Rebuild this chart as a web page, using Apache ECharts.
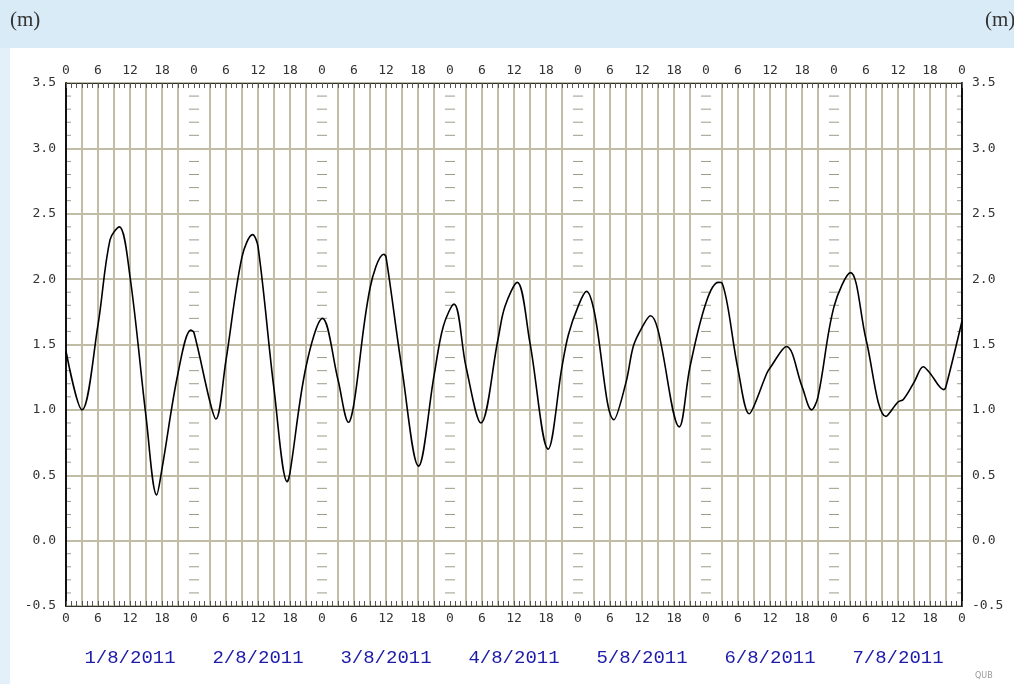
<!DOCTYPE html>
<html>
<head>
<meta charset="utf-8">
<script src="https://cdn.jsdelivr.net/npm/echarts@6/dist/echarts.min.js"></script>
<style>
  html, body { margin: 0; padding: 0; background: #ffffff; }
  #chart { width: 1014px; height: 684px; }
</style>
</head>
<body>
<div id="chart"></div>
<script>
// hours since 0:00 on 1/8/2011
const hours = [
  0, 3, 6, 8.25, 10, 12, 15, 17, 18, 21, 23.4, 24, 27, 28.1, 30, 33, 35, 36, 39, 41.5,
  42, 45, 48.1, 51, 53, 54, 57, 59.6, 60, 63, 66.1, 69, 70.75, 72.75, 75, 77.8, 81, 82.3,
  84.6, 87, 90.4, 93, 94.2, 96, 97.6, 99, 102.75, 105, 106.4, 108, 109.6, 111, 115, 117,
  120, 122.3, 123, 126, 128.1, 129, 131.4, 132, 135.1, 138, 139.8, 141, 144, 147.1, 150,
  153.75, 156, 157, 159, 160.75, 162, 164.6, 165, 168
];
const tide = [
  1.45, 1.0, 1.65, 2.30, 2.40, 2.02, 0.95, 0.35, 0.55, 1.28, 1.61, 1.59, 1.06, 0.93, 1.38, 2.17, 2.34, 2.25, 1.16, 0.45,
  0.52, 1.33, 1.70, 1.23, 0.905, 1.05, 1.93, 2.19, 2.17, 1.31, 0.57, 1.26, 1.64, 1.81, 1.33, 0.90, 1.54, 1.79,
  1.975, 1.51, 0.70, 1.33, 1.575, 1.79, 1.906, 1.76, 0.925, 1.21, 1.49, 1.63, 1.72, 1.61, 0.87, 1.33,
  1.82, 1.975, 1.97, 1.31, 0.97, 1.03, 1.28, 1.32, 1.485, 1.18, 1.0, 1.10, 1.79, 2.05, 1.54,
  0.95, 1.06, 1.08, 1.21, 1.33, 1.28, 1.155, 1.18, 1.68
];
const days = ["1/8/2011", "2/8/2011", "3/8/2011", "4/8/2011", "5/8/2011", "6/8/2011", "7/8/2011"];

const gridColor = "#c0bca6";
const tickFont = { fontFamily: "DejaVu Sans Mono", fontSize: 13, color: "#333" };

// small dashes every 0.1 m: on the day boundaries, and as ticks inside the two side axes
const boundaryDashes = [];
const leftTicks = [];
const rightTicks = [];
for (let k = -4; k <= 34; k++) {
  if (k % 5 === 0) continue;
  leftTicks.push([0, k / 10]);
  rightTicks.push([168, k / 10]);
  for (let d = 1; d < days.length; d++) boundaryDashes.push([d * 24, k / 10]);
}

function hourAxis(position, showSplit) {
  return {
    type: "value",
    position: position,
    min: 0,
    max: 168,
    interval: 3,
    axisLine: { show: true, onZero: false, lineStyle: { color: "#333", width: 1 } },
    axisTick: { show: true, inside: true, length: 5, lineStyle: { color: "#555", width: 1 } },
    minorTick: { show: true, splitNumber: 3, length: 5, lineStyle: { color: "#555", width: 1 } },
    axisLabel: Object.assign({
      margin: 6,
      showMinLabel: true,
      showMaxLabel: true,
      formatter: (v) => (v % 6 === 0 ? String(v % 24) : "")
    }, tickFont),
    splitLine: {
      show: showSplit,
      lineStyle: {
        width: 2,
        color: ["rgba(0,0,0,0)", gridColor, gridColor, gridColor, gridColor, gridColor, gridColor, gridColor]
      }
    }
  };
}

function levelAxis(position, showSplit) {
  return {
    type: "value",
    position: position,
    min: -0.5,
    max: 3.5,
    interval: 0.5,
    axisLine: { show: true, onZero: false, lineStyle: { color: "#111", width: 2 } },
    axisTick: { show: false },
    minorTick: { show: false },
    axisLabel: Object.assign({
      margin: 10,
      formatter: (v) => v.toFixed(1)
    }, tickFont),
    splitLine: { show: showSplit, lineStyle: { color: gridColor, width: 2 } }
  };
}

function dashSeries(data, size, offset) {
  return {
    type: "scatter",
    xAxisIndex: 0,
    yAxisIndex: 0,
    silent: true,
    symbol: "rect",
    symbolSize: size,
    symbolOffset: offset,
    itemStyle: { color: "#85816c" },
    data: data,
    z: 1
  };
}

const chart = echarts.init(document.getElementById("chart"), null, { renderer: "canvas" });

chart.setOption({
  backgroundColor: "#ffffff",
  animation: false,
  graphic: [
    { type: "rect", left: 0, top: 0, shape: { width: 1014, height: 48 }, style: { fill: "#d8ebf7" }, z: -10 },
    { type: "rect", left: 0, top: 48, shape: { width: 10, height: 636 }, style: { fill: "#e3f0f9" }, z: -10 },
    { type: "text", left: 10, top: 10, style: { text: "(m)", font: "21px 'Liberation Serif'", fill: "#333" } },
    { type: "text", left: 985, top: 10, style: { text: "(m)", font: "21px 'Liberation Serif'", fill: "#333" } },
    { type: "text", left: 975, top: 672, style: { text: "QUB", font: "8px 'DejaVu Sans'", fill: "#999" } }
  ],
  grid: { left: 66, right: 52, top: 83, bottom: 78, containLabel: false },
  xAxis: [
    hourAxis("bottom", true),
    hourAxis("top", false),
    {
      type: "category",
      position: "bottom",
      offset: 34,
      data: days,
      boundaryGap: true,
      axisLine: { show: false },
      axisTick: { show: false },
      splitLine: { show: false },
      axisLabel: { fontFamily: "Liberation Mono", fontSize: 19, color: "#1c1ca8", margin: 8 }
    }
  ],
  yAxis: [
    levelAxis("left", true),
    levelAxis("right", false)
  ],
  series: [
    dashSeries(boundaryDashes, [10, 1], [0, 0]),
    dashSeries(leftTicks, [4, 1], [3, 0]),
    dashSeries(rightTicks, [4, 1], [-3, 0]),
    {
      type: "line",
      xAxisIndex: 0,
      yAxisIndex: 0,
      smooth: 0.35,
      showSymbol: false,
      lineStyle: { color: "#000", width: 1.6 },
      data: hours.map((h, i) => [h, tide[i]]),
      z: 5
    }
  ]
});
</script>
</body>
</html>
